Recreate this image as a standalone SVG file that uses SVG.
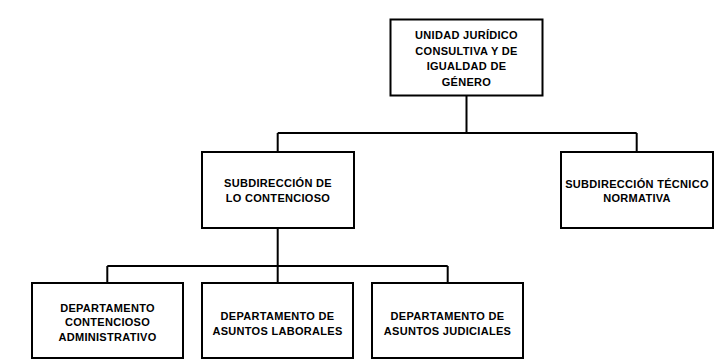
<svg xmlns="http://www.w3.org/2000/svg" width="714" height="360" viewBox="0 0 714 360">
<style>
.box{fill:#fff;stroke:#000;stroke-width:2}
.ln{fill:none;stroke:#000;stroke-width:2}
text{font-family:"Liberation Sans",Arial,sans-serif;font-weight:bold;font-size:11px;letter-spacing:0.3px;text-anchor:middle;fill:#000}
</style>
<rect width="714" height="360" fill="#fff"/>
<g id="connectors">
<path class="ln" d="M466.5 96V133M277.7 133H636.7M277.7 133V152M636.7 133V152"/>
<path class="ln" d="M277.7 228V266M107.3 266H447.7M107.3 266V283M277.7 266V283M447.7 266V283"/>
</g>
<g id="n-unidad">
<rect class="box" x="390.5" y="19.5" width="152" height="76"/>
<text x="466.5" y="39">UNIDAD JURÍDICO</text>
<text x="466.5" y="54.5">CONSULTIVA Y DE</text>
<text x="466.5" y="70">IGUALDAD DE</text>
<text x="466.5" y="85.5">GÉNERO</text>
</g>
<g id="n-contencioso">
<rect class="box" x="202" y="152" width="152" height="76"/>
<text x="278" y="187">SUBDIRECCIÓN DE</text>
<text x="278" y="201.5">LO CONTENCIOSO</text>
</g>
<g id="n-tecnico">
<rect class="box" x="561" y="152" width="152" height="76"/>
<text x="637" y="187.5">SUBDIRECCIÓN TÉCNICO</text>
<text x="637" y="202">NORMATIVA</text>
</g>
<g id="n-admin">
<rect class="box" x="32" y="283" width="151" height="75"/>
<text x="107.5" y="311.7">DEPARTAMENTO</text>
<text x="107.5" y="326">CONTENCIOSO</text>
<text x="107.5" y="340.7">ADMINISTRATIVO</text>
</g>
<g id="n-laborales">
<rect class="box" x="202" y="283" width="151" height="75"/>
<text x="277.5" y="320.4">DEPARTAMENTO DE</text>
<text x="277.5" y="334.6">ASUNTOS LABORALES</text>
</g>
<g id="n-judiciales">
<rect class="box" x="372" y="283" width="151" height="75"/>
<text x="447.5" y="320.4">DEPARTAMENTO DE</text>
<text x="447.5" y="334.6">ASUNTOS JUDICIALES</text>
</g>
</svg>
